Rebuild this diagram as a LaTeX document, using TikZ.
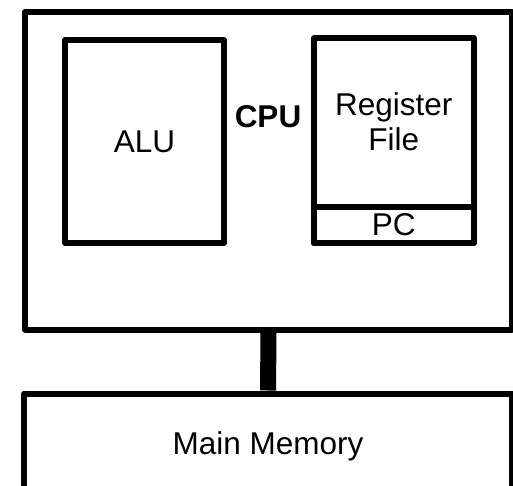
\documentclass[tikz,border=0pt]{standalone}
\usepackage{fontspec}
\setmainfont{Liberation Sans}
\begin{document}
\begin{tikzpicture}[x=1pt,y=-1pt,
  box/.style={draw, line width=6pt, line join=round, inner sep=0pt},
  lbl/.style={font=\fontsize{31.5}{35}\selectfont, inner sep=0pt, anchor=base, align=center}]
\clip (0,0) rectangle (513,486);
% CPU outer box
\node[box, minimum width=487pt, minimum height=317.5pt] (cpu) at (268.5,170.75) {};
% ALU
\node[box, minimum width=159pt, minimum height=203pt] (alu) at (144.5,141.5) {};
% Register file
\node[box, minimum width=159.5pt, minimum height=205pt] (reg) at (393.75,140.5) {};
\node[box, minimum width=159.5pt, minimum height=36pt, font=\fontsize{31.5}{35}\selectfont] (pc) at (393.75,225) {PC};
% Main memory
\node[box, minimum width=488pt, minimum height=100pt] (mem) at (268,443.5) {};
% labels
\node[lbl] (alut) at (144.5,153) {ALU};
\node[lbl, font=\fontsize{31.5}{35}\selectfont\bfseries] (cput) at (268,128) {CPU};
\node[lbl] (regt) at (393.75,151) {Register\\File};
\node[lbl] (memt) at (268,454) {Main Memory};
% bus
\draw[line width=16pt] (cpu.south) -- (mem.north);
\end{tikzpicture}
\end{document}
